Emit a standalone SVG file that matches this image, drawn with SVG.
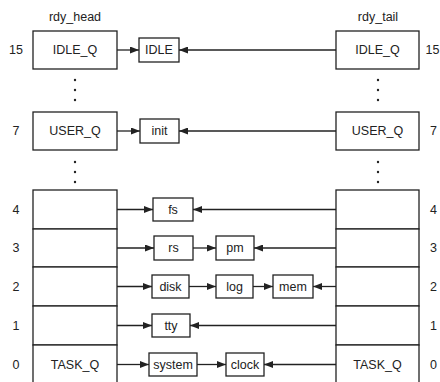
<svg xmlns="http://www.w3.org/2000/svg" width="440" height="382" viewBox="0 0 440 382">
<defs>
<marker id="ah" markerWidth="9" markerHeight="7" refX="9" refY="3.5" orient="auto" markerUnits="userSpaceOnUse">
<path d="M0,0 L9,3.5 L0,7 z" fill="#222"/>
</marker>
<style>
.b{fill:#fff;stroke:#222;stroke-width:1.3}
.t{font-family:"Liberation Sans",Arial,sans-serif;font-size:12.5px;fill:#222;text-anchor:middle;dominant-baseline:central}
.n{font-family:"Liberation Sans",Arial,sans-serif;font-size:12.5px;fill:#222;dominant-baseline:central}
.c{stroke:#222;stroke-width:1.3;fill:none;marker-end:url(#ah)}
.d{fill:#222}
</style>
</defs>
<rect width="440" height="382" fill="#fff"/>

<g id="labels">
<text class="t" x="75" y="17">rdy_head</text>
<text class="t" x="378" y="17">rdy_tail</text>
<text class="t" x="16" y="50">15</text>
<text class="t" x="16" y="131">7</text>
<text class="t" x="16" y="209.5">4</text>
<text class="t" x="16" y="248">3</text>
<text class="t" x="16" y="286.5">2</text>
<text class="t" x="16" y="325.5">1</text>
<text class="t" x="16" y="364.5">0</text>
<text class="n" x="425.5" y="50">15</text>
<text class="n" x="430" y="131">7</text>
<text class="n" x="430" y="209.5">4</text>
<text class="n" x="430" y="248">3</text>
<text class="n" x="430" y="286.5">2</text>
<text class="n" x="430" y="325.5">1</text>
<text class="n" x="430" y="364.5">0</text>
</g>

<g id="dots">
<circle class="d" cx="75" cy="80" r="1.2"/>
<circle class="d" cx="75" cy="90" r="1.2"/>
<circle class="d" cx="75" cy="100" r="1.2"/>
<circle class="d" cx="75" cy="162" r="1.2"/>
<circle class="d" cx="75" cy="172" r="1.2"/>
<circle class="d" cx="75" cy="182" r="1.2"/>
<circle class="d" cx="378" cy="80" r="1.2"/>
<circle class="d" cx="378" cy="90" r="1.2"/>
<circle class="d" cx="378" cy="100" r="1.2"/>
<circle class="d" cx="378" cy="162" r="1.2"/>
<circle class="d" cx="378" cy="172" r="1.2"/>
<circle class="d" cx="378" cy="182" r="1.2"/>
</g>

<g id="head-15"><rect class="b" x="33" y="31" width="84" height="38"/><text class="t" x="75" y="50">IDLE_Q</text></g>
<g id="head-7"><rect class="b" x="33" y="112" width="84" height="38"/><text class="t" x="75" y="131">USER_Q</text></g>
<g id="head-4"><rect class="b" x="33" y="190" width="84" height="39"/></g>
<g id="head-3"><rect class="b" x="33" y="229" width="84" height="38"/></g>
<g id="head-2"><rect class="b" x="33" y="267" width="84" height="39"/></g>
<g id="head-1"><rect class="b" x="33" y="306" width="84" height="39"/></g>
<g id="head-0"><rect class="b" x="33" y="345" width="84" height="45"/><text class="t" x="75" y="364.5">TASK_Q</text></g>

<g id="tail-15"><rect class="b" x="336" y="31" width="83" height="38"/><text class="t" x="377.5" y="50">IDLE_Q</text></g>
<g id="tail-7"><rect class="b" x="336" y="112" width="83" height="38"/><text class="t" x="377.5" y="131">USER_Q</text></g>
<g id="tail-4"><rect class="b" x="336" y="190" width="83" height="39"/></g>
<g id="tail-3"><rect class="b" x="336" y="229" width="83" height="38"/></g>
<g id="tail-2"><rect class="b" x="336" y="267" width="83" height="39"/></g>
<g id="tail-1"><rect class="b" x="336" y="306" width="83" height="39"/></g>
<g id="tail-0"><rect class="b" x="336" y="345" width="83" height="45"/><text class="t" x="377.5" y="364.5">TASK_Q</text></g>

<g id="idle"><rect class="b" x="139" y="38" width="40" height="24"/><text class="t" x="159" y="50">IDLE</text></g>
<g id="init"><rect class="b" x="140" y="119" width="39" height="24"/><text class="t" x="159.5" y="131">init</text></g>
<g id="fs"><rect class="b" x="153" y="198" width="40" height="23"/><text class="t" x="173" y="209.5">fs</text></g>
<g id="rs"><rect class="b" x="154" y="236" width="39" height="24"/><text class="t" x="173.5" y="248">rs</text></g>
<g id="pm"><rect class="b" x="216" y="236" width="38" height="24"/><text class="t" x="235" y="248">pm</text></g>
<g id="disk"><rect class="b" x="152" y="275" width="37" height="23"/><text class="t" x="170.5" y="286.5">disk</text></g>
<g id="log"><rect class="b" x="216" y="275" width="37" height="23"/><text class="t" x="234.5" y="286.5">log</text></g>
<g id="mem"><rect class="b" x="273" y="275" width="40" height="23"/><text class="t" x="293" y="286.5">mem</text></g>
<g id="tty"><rect class="b" x="152" y="314" width="38" height="23"/><text class="t" x="171" y="325.5">tty</text></g>
<g id="system"><rect class="b" x="149" y="353" width="48" height="23"/><text class="t" x="173" y="364.5">system</text></g>
<g id="clock"><rect class="b" x="226" y="353" width="38" height="23"/><text class="t" x="245" y="364.5">clock</text></g>

<g id="connectors">
<line class="c" x1="117" y1="50" x2="139" y2="50"/>
<line class="c" x1="336" y1="50" x2="179" y2="50"/>
<line class="c" x1="117" y1="131" x2="140" y2="131"/>
<line class="c" x1="336" y1="131" x2="179" y2="131"/>
<line class="c" x1="117" y1="209.5" x2="153" y2="209.5"/>
<line class="c" x1="336" y1="209.5" x2="193" y2="209.5"/>
<line class="c" x1="117" y1="248" x2="154" y2="248"/>
<line class="c" x1="193" y1="248" x2="216" y2="248"/>
<line class="c" x1="336" y1="248" x2="254" y2="248"/>
<line class="c" x1="117" y1="286.5" x2="152" y2="286.5"/>
<line class="c" x1="189" y1="286.5" x2="216" y2="286.5"/>
<line class="c" x1="253" y1="286.5" x2="273" y2="286.5"/>
<line class="c" x1="336" y1="286.5" x2="313" y2="286.5"/>
<line class="c" x1="117" y1="325.5" x2="152" y2="325.5"/>
<line class="c" x1="336" y1="325.5" x2="190" y2="325.5"/>
<line class="c" x1="117" y1="364.5" x2="149" y2="364.5"/>
<line class="c" x1="197" y1="364.5" x2="226" y2="364.5"/>
<line class="c" x1="336" y1="364.5" x2="264" y2="364.5"/>
</g>
</svg>
